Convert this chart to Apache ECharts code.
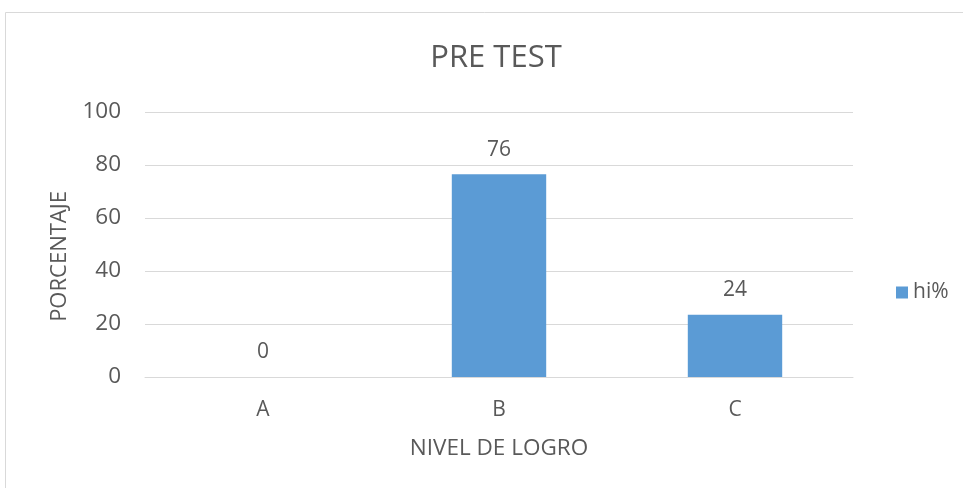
<!DOCTYPE html>
<html>
<head>
<meta charset="utf-8">
<script src="https://cdn.jsdelivr.net/npm/echarts@6/dist/echarts.min.js"></script>
<style>html,body{margin:0;padding:0;background:#fff}#c{width:963px;height:488px}</style>
</head>
<body>
<div id="c"></div>
<script>
var categories = ['A', 'B', 'C'];
var hiValues = [0, 76.47, 23.53];
var seriesName = 'hi%';
var titleText = 'PRE TEST';
var xName = 'NIVEL DE LOGRO';
var yName = 'PORCENTAJE';

var FONT = '"Open Sans", sans-serif';
var TXT = '#595959';
var chart = echarts.init(document.getElementById('c'), null, {renderer: 'canvas'});
chart.setOption({
  animation: false,
  backgroundColor: '#fff',
  textStyle: {fontFamily: FONT, color: TXT},
  graphic: [{
    type: 'rect', silent: true, z: -1,
    shape: {x: 5.5, y: 12.5, width: 1000, height: 500},
    style: {fill: '#fff', stroke: '#D9D9D9', lineWidth: 1}
  }],
  title: {
    text: titleText, left: 491, top: 38, textAlign: 'center',
    textStyle: {fontFamily: FONT, fontSize: 31, fontWeight: 'normal', color: TXT}
  },
  legend: {
    data: [seriesName], orient: 'vertical', left: 891, top: 277,
    icon: 'rect', itemWidth: 12, itemHeight: 12, itemGap: 6,
    textStyle: {fontFamily: FONT, fontSize: 21, color: TXT}
  },
  grid: {left: 145, right: 110, top: 112, bottom: 111, containLabel: false},
  xAxis: {
    type: 'category', data: categories,
    name: xName, nameLocation: 'middle', nameGap: 60,
    nameTextStyle: {fontFamily: FONT, fontSize: 22.5, color: TXT},
    axisLine: {show: true, lineStyle: {color: '#D9D9D9', width: 1}},
    axisTick: {show: false},
    axisLabel: {fontFamily: FONT, fontSize: 21, color: TXT, margin: 23}
  },
  yAxis: {
    type: 'value', min: 0, max: 100, interval: 20,
    name: yName, nameLocation: 'middle', nameGap: 74,
    nameTextStyle: {fontFamily: FONT, fontSize: 22, color: TXT, padding: [0, 24, 0, 0]},
    axisLine: {show: false}, axisTick: {show: false},
    splitLine: {lineStyle: {color: '#D9D9D9', width: 1}},
    axisLabel: {fontFamily: FONT, fontSize: 22.5, color: TXT, margin: 24}
  },
  series: [{
    name: seriesName, type: 'bar', data: hiValues, barWidth: '40%',
    itemStyle: {color: '#5B9BD5'},
    label: {
      show: true, position: 'top', distance: 14,
      fontFamily: FONT, fontSize: 21, color: TXT,
      formatter: function (p) { return Math.round(p.value); }
    }
  }]
});
</script>
</body>
</html>
